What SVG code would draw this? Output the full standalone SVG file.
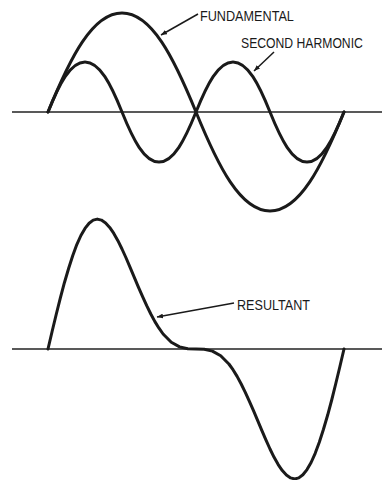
<svg xmlns="http://www.w3.org/2000/svg" width="382" height="480" viewBox="0 0 382 480">
<style>
.axis{stroke:#222;stroke-width:1.3;fill:none}
.wave{stroke:#1a1a1a;stroke-width:3;fill:none;stroke-linejoin:round;stroke-linecap:round}
.lead{stroke:#1a1a1a;stroke-width:1.5;fill:none}
.lbl{font-family:"Liberation Sans",Arial,sans-serif;font-size:15px;fill:#1a1a1a}
</style>
<defs>
<marker id="ah" viewBox="0 0 10 8" refX="10" refY="4" markerWidth="6" markerHeight="5" markerUnits="userSpaceOnUse" orient="auto">
<path d="M0,0 L10,4 L0,8 Z" fill="#1a1a1a"/>
</marker>
</defs>
<rect width="382" height="480" fill="#fff"/>
<g id="axes">
<line class="axis" x1="12" y1="112" x2="382" y2="112"/>
<line class="axis" x1="12" y1="349" x2="382" y2="349"/>
</g>
<g id="fundamental">
<path class="wave" d="M48,112 C70.2,57.55 92.4,13 122,13 C151.6,13 173.8,57.55 196,112 C218.2,166.45 240.4,211 270,211 C299.6,211 321.8,166.45 344,112"/>
</g>
<g id="second-harmonic">
<path class="wave" d="M48,112 C59.1,84.5 70.2,62 85,62 C99.8,62 110.9,84.5 122,112 C133.1,139.5 144.2,162 159,162 C173.8,162 184.9,139.5 196,112 C207.1,84.5 218.2,62 233,62 C247.8,62 258.9,84.5 270,112 C281.1,139.5 292.2,162 307,162 C321.8,162 332.9,139.5 344,112"/>
</g>
<g id="resultant">
<polyline class="wave" points="48,349 52.1,331.5 56.2,314.5 60.3,298.2 64.4,282.7 68.6,268.5 72.7,255.7 76.8,244.6 80.9,235.5 85,228.4 89.1,223.2 93.2,220.1 97.3,219.1 101.4,220.1 105.6,222.9 109.7,227.4 113.8,233.4 117.9,240.7 122,249 126.1,258 130.2,267.6 134.3,277.4 138.4,287.2 142.6,296.7 146.7,305.7 150.8,314 154.9,321.6 159,328.2 163.1,334 171.3,342.3 179.6,346.9 187.8,348.7 196,349 204.2,349.3 212.4,351.1 220.7,355.7 228.9,364 233,369.7 237.1,376.4 241.2,384 245.3,392.3 249.4,401.3 253.6,410.8 257.7,420.6 261.8,430.4 265.9,439.9 270,449 274.1,457.3 278.2,464.6 282.3,470.6 286.4,475.1 290.6,477.9 294.7,478.9 298.8,477.9 302.9,474.8 307,469.6 311.1,462.5 315.2,453.3 319.3,442.3 323.4,429.5 327.6,415.3 331.7,400 335.8,383.5 339.9,366.5 344,349"/>
</g>
<g id="connectors">
<line class="lead" x1="198" y1="14" x2="161" y2="35" marker-end="url(#ah)"/>
<line class="lead" x1="274" y1="52" x2="254" y2="71" marker-end="url(#ah)"/>
<line class="lead" x1="234" y1="303" x2="157" y2="317" marker-end="url(#ah)"/>
</g>
<g id="labels">
<text class="lbl" transform="translate(200,21) scale(0.844,1)">FUNDAMENTAL</text>
<text class="lbl" transform="translate(241,48) scale(0.813,1)">SECOND HARMONIC</text>
<text class="lbl" transform="translate(237,310) scale(0.84,1)">RESULTANT</text>
</g>
</svg>
